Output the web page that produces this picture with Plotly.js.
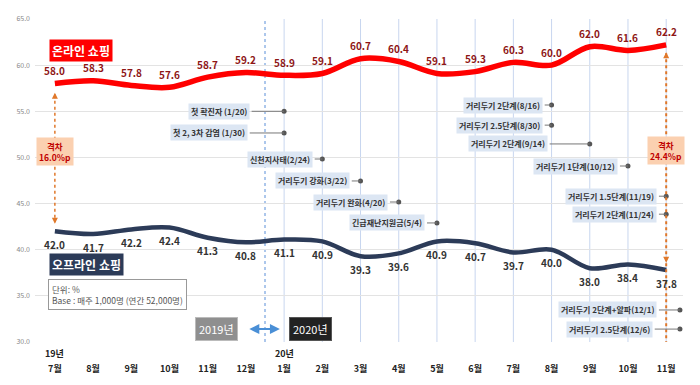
<!DOCTYPE html>
<html><head><meta charset="utf-8">
<script src="https://cdn.plot.ly/plotly-3.0.1.min.js"></script>
<style>html,body{margin:0;padding:0;background:#fff}#chart{width:700px;height:385px}</style>
</head><body><div id="chart"></div>
<script>
// ---- data ----
const months = ['7월','8월','9월','10월','11월','12월','1월','2월','3월','4월','5월','6월','7월','8월','9월','10월','11월'];
const years = [{idx:0, text:'19년'}, {idx:6, text:'20년'}];
const online = [58.0,58.3,57.8,57.6,58.7,59.2,58.9,59.1,60.7,60.4,59.1,59.3,60.3,60.0,62.0,61.6,62.2];
const offline = [42.0,41.7,42.2,42.4,41.3,40.8,41.1,40.9,39.3,39.6,40.9,40.7,39.7,40.0,38.0,38.4,37.8];
const gapLabels = ['격차<br>16.0%p','격차<br>24.4%p'];
const eventLabels = ['첫 확진자 (1/20)','첫 2, 3차 감염 (1/30)','신천지사태(2/24)','거리두기 강화(3/22)','거리두기 완화(4/20)','긴급재난지원금(5/4)','거리두기 2단계(8/16)','거리두기 2.5단계(8/30)','거리두기 2단계(9/14)','거리두기 1단계(10/12)','거리두기 1.5단계(11/19)','거리두기 2단계(11/24)','거리두기 2단계+알파(12/1)','거리두기 2.5단계(12/6)'];
const eventX = [6,6,7,8,9,10,13,13,14,15,16,16,16.36,16.36];
const eventY = [55.0,52.65,49.83,47.45,45.17,42.9,55.68,53.5,51.46,49.07,45.8,43.85,33.47,31.4];

// ---- layout helpers (positions) ----
const boxRight = [5.1,5.05,6.75,7.72,8.72,9.69,12.77,12.77,12.9,14.74,15.76,15.76,15.76,15.65];
const xs = months.map((_, i) => i);
const FONT = 'Noto Sans CJK KR, Noto Sans, sans-serif';
const last = xs.length - 1;

const traces = [
  {x: xs, y: online, mode: 'lines', line: {color: '#ff0000', width: 5.5, shape: 'spline', smoothing: 1}, hoverinfo: 'skip'},
  {x: xs, y: offline, mode: 'lines', line: {color: '#2c3b58', width: 4.5, shape: 'spline', smoothing: 1}, hoverinfo: 'skip'},
  {x: eventX, y: eventY, mode: 'markers', marker: {size: 5, color: '#555'}, hoverinfo: 'skip', cliponaxis: false}
];

const shapes = [];
for (let i = 6; i <= last; i++) {
  shapes.push({type: 'line', xref: 'x', yref: 'y', x0: i, x1: i, y0: 30, y1: 65, line: {color: '#c8d6ef', width: 1}, layer: 'below'});
}
shapes.push({type: 'line', xref: 'x', yref: 'y', x0: 5.5, x1: 5.5, y0: 30, y1: 65, line: {color: '#5b8fd8', width: 1, dash: 'dot'}, layer: 'below'});
// gap lines
shapes.push({type: 'line', xref: 'x', yref: 'y', x0: 0, x1: 0, y0: online[0] - 1.2, y1: offline[0] + 1.0, line: {color: '#e0782a', width: 1.5, dash: 'dot'}});
shapes.push({type: 'line', xref: 'x', yref: 'y', x0: last, x1: last, y0: online[last] - 0.9, y1: 30, line: {color: '#e0782a', width: 2, dash: 'dot'}});
// event connector lines
eventLabels.forEach((t, i) => {
  shapes.push({type: 'line', xref: 'x', yref: 'y', x0: boxRight[i] + 0.05, x1: eventX[i], y0: eventY[i], y1: eventY[i], line: {color: '#777', width: 1}});
});

const annotations = [];
// value labels
online.forEach((v, i) => annotations.push({x: i, y: v, xref: 'x', yref: 'y', yshift: 13, text: v.toFixed(1), showarrow: false,
  font: {family: FONT, size: 10, color: '#8e1616', weight: 700}}));
offline.forEach((v, i) => annotations.push({x: i, y: v, xref: 'x', yref: 'y', yshift: -13, text: v.toFixed(1), showarrow: false,
  font: {family: FONT, size: 10, color: '#333', weight: 700}}));
// year labels
years.forEach(y => annotations.push({x: y.idx, y: 0, xref: 'x', yref: 'paper', yanchor: 'top', yshift: -3, text: y.text, showarrow: false,
  font: {family: FONT, size: 9, color: '#222', weight: 700}}));
// series labels
annotations.push({x: 0.68, y: 61.64, xref: 'x', yref: 'y', text: '온라인 쇼핑', showarrow: false, bgcolor: '#ff0000',
  font: {family: FONT, size: 12, color: '#fff', weight: 700}, borderpad: 2});
annotations.push({x: 0.84, y: 38.45, xref: 'x', yref: 'y', text: '오프라인 쇼핑', showarrow: false, bgcolor: '#2c3b58',
  font: {family: FONT, size: 12, color: '#fff', weight: 700}, borderpad: 2});
// unit box
annotations.push({x: -0.18, y: 35.2, xref: 'x', yref: 'y', xanchor: 'left', align: 'left', showarrow: false,
  text: '단위: %<br>Base : 매주 1,000명 (연간 52,000명)', bgcolor: '#fff', bordercolor: '#999', borderwidth: 1, borderpad: 3,
  font: {family: FONT, size: 8.5, color: '#555'}});
// year boxes
annotations.push({x: 4.24, y: 31.4, xref: 'x', yref: 'y', text: '2019년', showarrow: false, bgcolor: '#8f8f8f', bordercolor: '#bbb', borderwidth: 1, borderpad: 3,
  font: {family: FONT, size: 11, color: '#fff'}});
annotations.push({x: 6.7, y: 31.4, xref: 'x', yref: 'y', text: '2020년', showarrow: false, bgcolor: '#222', bordercolor: '#555', borderwidth: 1, borderpad: 3,
  font: {family: FONT, size: 11, color: '#fff'}});
annotations.push({x: 5.89, y: 31.4, ax: 5.05, ay: 31.4, axref: 'x', ayref: 'y', xref: 'x', yref: 'y', text: '', showarrow: true,
  arrowside: 'end+start', arrowhead: 2, arrowsize: 1, arrowwidth: 2, arrowcolor: '#4a8fd6'});
// gap boxes
annotations.push({x: 0, y: 50.6, xref: 'x', yref: 'y', text: gapLabels[0], showarrow: false, bgcolor: '#fbd0b0', borderpad: 2,
  font: {family: FONT, size: 8.5, color: '#c00000', weight: 700}});
annotations.push({x: last, y: 50.75, xref: 'x', yref: 'y', text: gapLabels[1], showarrow: false, bgcolor: '#fbd0b0', borderpad: 2,
  font: {family: FONT, size: 8.5, color: '#c00000', weight: 700}});
// gap arrowheads (pointing toward each line)
[[0, online[0] - 1.0, 1], [0, offline[0] + 0.8, -1], [last, online[last] - 0.8, 1], [last, offline[last] + 0.8, -1]].forEach(a => {
  annotations.push({x: a[0], y: a[1], xref: 'x', yref: 'y', ax: 0, ay: a[2] * 7, text: '', showarrow: true,
    arrowhead: 2, arrowsize: 0.8, arrowwidth: 1.5, arrowcolor: '#e0782a'});
});
// event boxes
eventLabels.forEach((t, i) => {
  annotations.push({x: boxRight[i], y: eventY[i], xref: 'x', yref: 'y', xanchor: 'right', text: t, showarrow: false,
    bgcolor: '#dce6f3', borderpad: 2, font: {family: FONT, size: 8, color: '#333', weight: 700}});
});

const layout = {
  width: 700, height: 385,
  margin: {l: 35, r: 17, t: 19, b: 43},
  paper_bgcolor: '#fff', plot_bgcolor: '#fff',
  showlegend: false,
  font: {family: FONT},
  xaxis: {range: [-0.52, 16.44], tickmode: 'array', tickvals: xs, ticktext: months, showgrid: false, zeroline: false,
    ticks: '', ticklabelstandoff: 20, tickfont: {family: FONT, size: 9, color: '#222', weight: 700}, fixedrange: true},
  yaxis: {range: [30, 65], dtick: 5, tickformat: '.1f', showgrid: true, gridcolor: '#e3e3e3', gridwidth: 1, zeroline: false,
    tickfont: {family: FONT, size: 7, color: '#888'}, ticklabelstandoff: 4, fixedrange: true},
  shapes: shapes,
  annotations: annotations
};
Plotly.newPlot('chart', traces, layout, {displayModeBar: false, staticPlot: true});
</script>
</body></html>
